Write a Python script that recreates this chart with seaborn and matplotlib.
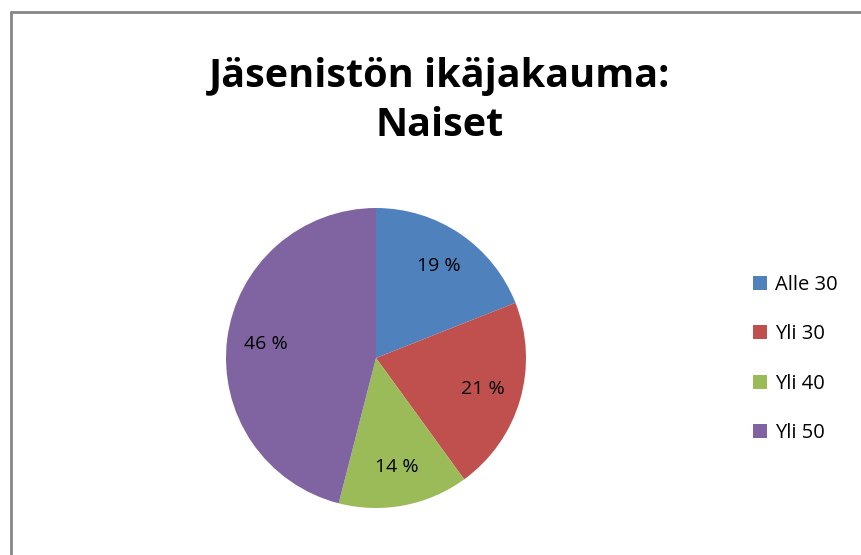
import matplotlib
matplotlib.use("Agg")
import matplotlib.pyplot as plt
import seaborn as sns
from matplotlib.patches import Patch
from matplotlib.lines import Line2D

sns.set_theme(style="white")
plt.rcParams['font.family'] = ['Open Sans', 'DejaVu Sans']
plt.rcParams['text.color'] = 'black'

# data
categories = ['Alle 30', 'Yli 30', 'Yli 40', 'Yli 50']
shares = [19, 21, 14, 46]
colors = ['#4F81BD', '#C0504D', '#9BBB59', '#8064A2']
title = 'Jäsenistön ikäjakauma:\nNaiset'

fig = plt.figure(figsize=(8.62, 5.55), dpi=100)
fig.patch.set_facecolor('white')

# chart frame (only top and left edges visible)
fig.add_artist(Line2D([11.5 / 862, 1.0], [1 - 11.5 / 555] * 2, color='#868686', lw=2.0))
fig.add_artist(Line2D([11.5 / 862] * 2, [0.0, 1 - 11.5 / 555], color='#868686', lw=2.0))

ax = fig.add_axes([226 / 862, 47 / 555, 300 / 862, 300 / 555])
wedges, texts = ax.pie(shares, colors=colors, startangle=90, counterclock=False,
                       labels=[f'{v} %' for v in shares], labeldistance=0.74,
                       wedgeprops=dict(linewidth=0))
for t in texts:
    t.set_fontsize(14)
    t.set_color('black')
    t.set_ha('center')
    t.set_va('center')
ax.set_aspect('equal')
ax.set_xlim(-1, 1)
ax.set_ylim(-1, 1)

fig.text(440 / 862, 1 - 101 / 555, title, ha='center', va='center', color='black',
         fontsize=28.5, fontweight='bold', linespacing=1.32)

handles = [Patch(facecolor=c, edgecolor='none') for c in colors]
leg = fig.legend(handles, categories, loc='center left', bbox_to_anchor=(735 / 862, 1 - 359 / 555),
                 frameon=False, fontsize=14.5, handlelength=0.7, handleheight=0.7,
                 handletextpad=0.4, labelspacing=1.45)
for t in leg.get_texts():
    t.set_color('black')

fig.savefig('out.png', dpi=100)
